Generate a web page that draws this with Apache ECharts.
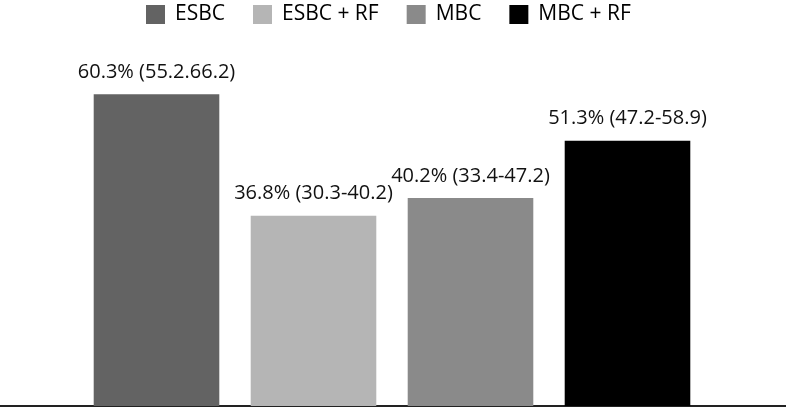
<!DOCTYPE html>
<html>
<head>
<meta charset="utf-8">
<script src="https://cdn.jsdelivr.net/npm/echarts@6/dist/echarts.min.js"></script>
<style>
html,body{margin:0;padding:0;background:#fff;}
#chart{width:786px;height:408px;}
</style>
</head>
<body>
<div id="chart"></div>
<script>
const categories = ['ESBC', 'ESBC + RF', 'MBC', 'MBC + RF'];
const values = [60.3, 36.8, 40.2, 51.3];
const labels = ['60.3% (55.2.66.2)', '36.8% (30.3-40.2)', '40.2% (33.4-47.2)', '51.3% (47.2-58.9)'];
const colors = ['#636363', '#b5b5b5', '#8a8a8a', '#000000'];

const FONT = 'Open Sans';
const chart = echarts.init(document.getElementById('chart'), null, {renderer: 'canvas'});

const series = categories.map((name, i) => ({
  name: name,
  type: 'bar',
  stack: 'all',
  barCategoryGap: '20%',
  itemStyle: {color: colors[i]},
  label: {
    show: true,
    position: 'top',
    distance: 12,
    fontFamily: FONT,
    fontSize: 20,
    color: '#111',
    formatter: () => labels[i]
  },
  data: values.map((v, j) => (j === i ? v : '-')),
  xAxisIndex: 0,
  yAxisIndex: 0
}));

chart.setOption({
  animation: false,
  backgroundColor: '#fff',
  legend: {
    top: -1,
    left: 141,
    itemWidth: 19,
    itemHeight: 19,
    itemGap: 28,
    icon: 'rect',
    textStyle: {fontFamily: FONT, fontSize: 21, color: '#000', padding: [0, 0, 0, 5]},
    data: categories
  },
  grid: [
    {left: 78, right: 80, top: 44, bottom: 2, containLabel: false},
    {left: 0, right: 0, top: 405, bottom: 2, containLabel: false}
  ],
  xAxis: [
    {type: 'category', gridIndex: 0, data: categories, axisLine: {show: false}, axisTick: {show: false}, axisLabel: {show: false}},
    {type: 'value', gridIndex: 1, min: 0, max: 1, axisLine: {show: true, lineStyle: {color: '#222', width: 2}}, axisTick: {show: false}, axisLabel: {show: false}, splitLine: {show: false}}
  ],
  yAxis: [
    {type: 'value', gridIndex: 0, min: 0, max: 70, show: false, splitLine: {show: false}},
    {type: 'value', gridIndex: 1, min: 0, max: 1, show: false, splitLine: {show: false}}
  ],
  series: series
});
</script>
</body>
</html>
